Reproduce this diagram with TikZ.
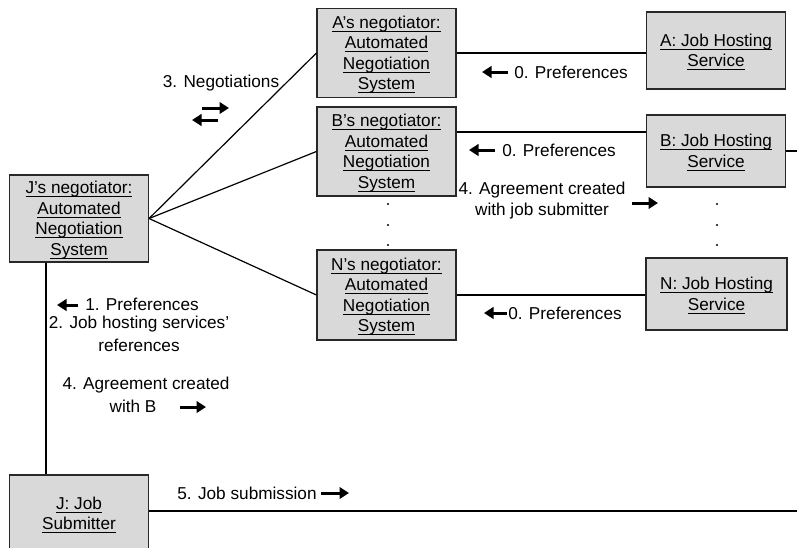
\documentclass[tikz,border=0pt]{standalone}
\usepackage{fontspec}
\setmainfont{Liberation Sans}
\usetikzlibrary{arrows.meta}
\definecolor{boxfill}{RGB}{217,217,217}
\definecolor{boxline}{RGB}{40,40,40}
% underline at a fixed depth below the baseline
\newsavebox{\ulinebox}
\newcommand{\ulin}[1]{\leavevmode\sbox{\ulinebox}{#1}%
  \rlap{\rule[-3pt]{\wd\ulinebox}{0.9pt}}\usebox{\ulinebox}}
\begin{document}
\begin{tikzpicture}[x=1pt,y=-1pt,
  font=\fontsize{17.2}{20.5}\selectfont,
  box/.style={draw=boxline, line width=1.1pt, fill=boxfill, inner sep=0pt, align=center, text depth=-2.5pt},
  conn/.style={draw=black, line width=1.2pt},
  flow/.style={line width=3pt, -{Triangle[length=9.5pt,width=11.5pt]}},
  lbl/.style={inner sep=0pt, align=center},
  dot/.style={circle, fill=black, inner sep=0pt, minimum size=2.4pt}]
\useasboundingbox (0,0) rectangle (797,547);
\coordinate (edge) at (797,0);

% negotiators
\node[box, minimum width=139, minimum height=87] (jneg) at (79,218.5)
  {\ulin{J’s negotiator:}\\\ulin{Automated}\\\ulin{Negotiation}\\\ulin{System}};
\node[box, minimum width=139, minimum height=89] (aneg) at (386.5,53)
  {\ulin{A’s negotiator:}\\\ulin{Automated}\\\ulin{Negotiation}\\\ulin{System}};
\node[box, minimum width=139, minimum height=89] (bneg) at (386.5,151.5)
  {\ulin{B’s negotiator:}\\\ulin{Automated}\\\ulin{Negotiation}\\\ulin{System}};
\node[box, minimum width=139, minimum height=90] (nneg) at (386.5,295)
  {\ulin{N’s negotiator:}\\\ulin{Automated}\\\ulin{Negotiation}\\\ulin{System}};

% job hosting services
\node[box, minimum width=139, minimum height=77] (ahost) at (716,50.5)
  {\ulin{A: Job Hosting}\\\ulin{Service}};
\node[box, minimum width=139, minimum height=72] (bhost) at (716,151)
  {\ulin{B: Job Hosting}\\\ulin{Service}};
\node[box, minimum width=141, minimum height=72] (nhost) at (716.5,294)
  {\ulin{N: Job Hosting}\\\ulin{Service}};

% job submitter (runs off the lower edge)
\begin{scope}
\clip (0,0) rectangle (797,547);
\node[box, minimum width=139, minimum height=77] (jsub) at (79,513.5)
  {\ulin{J: Job}\\\ulin{Submitter}};
\end{scope}

% connectors
\draw[conn] (jneg.east) -- (aneg.west);
\draw[conn] (jneg.east) -- (bneg.west);
\draw[conn] (jneg.east) -- (nneg.west);
\draw[conn] (aneg.east) -- (aneg.east -| ahost.west);
\draw[conn] ([yshift=19.5pt]bneg.east) -- ([yshift=19.5pt]bneg.east -| bhost.west);
\draw[conn] (nneg.east) -- (nneg.east -| nhost.west);
\draw[conn] (bhost.east) -- (bhost.east -| edge);
\draw[conn] ([xshift=-33pt]jneg.south) -- ([xshift=-33pt]jneg.south |- jsub.north);
\draw[conn] ([yshift=2.5pt]jsub.east) -- ([yshift=2.5pt]jsub.east -| edge);

% ellipsis dots
\foreach \y [count=\i] in {204,225,245} {
  \node[dot] (ld\i) at (388,\y) {};
  \node[dot] (rd\i) at (717,\y) {};
}

% labels
\node[lbl] (l3) at (221,83) {3. Negotiations};
\draw[flow] (202,108) -- (229,108);
\draw[flow] (218,120) -- (192,120);

\node[lbl] (l0a) at (571,72) {0. Preferences};
\draw[flow] (508,72) -- (482,72);
\node[lbl] (l0b) at (559,150) {0. Preferences};
\draw[flow] (495,150) -- (469,150);
\node[lbl] (l0n) at (565,313) {0. Preferences};
\draw[flow] (507,313) -- (484,313);

\node[lbl] (l4a) at (542,200.5) {4. Agreement created\\with job submitter};
\draw[flow] (632,203) -- (658,203);

\node[lbl] (l1) at (142,304) {1. Preferences};
\draw[flow] (78,305) -- (57,305);
\node[lbl] (l2) at (139,333.5) {2. Job hosting services’\\[2.5pt]references};
\node[lbl] (l4b) at (146,385) {4. Agreement created};
\node[lbl] (l4c) at (133,406) {with B};
\draw[flow] (180,407) -- (206,407);

\node[lbl] (l5) at (247,493) {5. Job submission};
\draw[flow] (321,493) -- (349,493);
\end{tikzpicture}
\end{document}
